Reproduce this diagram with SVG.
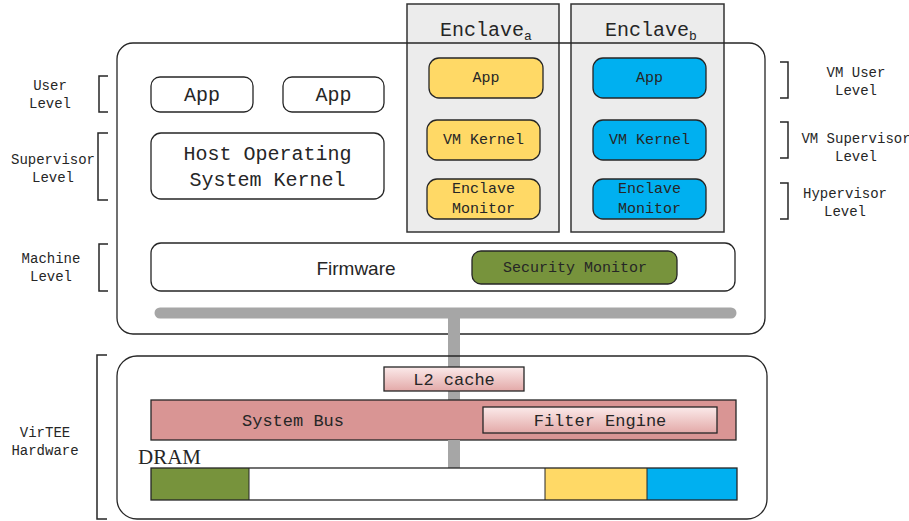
<svg xmlns="http://www.w3.org/2000/svg" width="909" height="521" viewBox="0 0 909 521">
<defs>
<linearGradient id="pink" x1="0" y1="0" x2="0" y2="1">
<stop offset="0" stop-color="#fbeaea"/>
<stop offset="1" stop-color="#e3a9a8"/>
</linearGradient>
<style>
text{font-family:"Liberation Mono","DejaVu Sans Mono",monospace;fill:#262626;text-anchor:middle;dominant-baseline:central}
.lbl{font-size:14px}
.box{fill:#fff;stroke:#262626;stroke-width:1.3}
.encl{fill:#ececec;stroke:#333;stroke-width:1.5}
.yel{fill:#ffd966;stroke:#262626;stroke-width:1.3}
.blu{fill:#00b0f0;stroke:#262626;stroke-width:1.3}
.brk{fill:none;stroke:#262626;stroke-width:1.5}
.in{font-size:15px}
.big{font-size:20px}
.hw{font-size:17px}
.edge{stroke:#a6a6a6;fill:none}
</style>
</defs>

<!-- main software box background -->
<rect x="117" y="43" width="648" height="291" rx="16" fill="#fff"/>

<g id="enclave_a">
<rect class="encl" x="407" y="4" width="152" height="228"/>
<text x="486" y="30" style="font-size:20px">Enclave<tspan font-size="13" dy="6">a</tspan></text>
</g>
<g id="enclave_b">
<rect class="encl" x="571" y="4" width="153" height="228"/>
<text x="651" y="30" style="font-size:20px">Enclave<tspan font-size="13" dy="6">b</tspan></text>
</g>

<g id="main_box">
<rect x="117" y="43" width="648" height="291" rx="16" fill="none" stroke="#262626" stroke-width="1.3"/>
</g>

<g id="connectors">
<line class="edge" x1="160" y1="313" x2="731" y2="313" stroke-width="11" stroke-linecap="round"/>
<line class="edge" x1="454" y1="318" x2="454" y2="468" stroke-width="12"/>
</g>

<g id="app_a"><rect class="yel" x="429" y="58" width="114" height="40" rx="10"/><text class="in" x="486" y="78">App</text></g>
<g id="vmk_a"><rect class="yel" x="427" y="120" width="113" height="40" rx="10"/><text class="in" x="483.5" y="140">VM Kernel</text></g>
<g id="em_a"><rect class="yel" x="427" y="179" width="113" height="40" rx="10"/><text class="in" x="483.5" y="189">Enclave</text><text class="in" x="483.5" y="209">Monitor</text></g>

<g id="app_b"><rect class="blu" x="593" y="58" width="113" height="40" rx="10"/><text class="in" x="649.5" y="78">App</text></g>
<g id="vmk_b"><rect class="blu" x="593" y="120" width="113" height="40" rx="10"/><text class="in" x="649.5" y="140">VM Kernel</text></g>
<g id="em_b"><rect class="blu" x="593" y="179" width="113" height="40" rx="10"/><text class="in" x="649.5" y="189">Enclave</text><text class="in" x="649.5" y="209">Monitor</text></g>

<g id="app1"><rect class="box" x="151" y="77" width="102" height="35" rx="9"/><text class="big" x="202" y="95">App</text></g>
<g id="app2"><rect class="box" x="283" y="77" width="101" height="35" rx="9"/><text class="big" x="333.5" y="95">App</text></g>
<g id="host_kernel"><rect class="box" x="151" y="133" width="233" height="66" rx="10"/><text class="big" x="267.5" y="154">Host Operating</text><text class="big" x="267.5" y="180">System Kernel</text></g>

<g id="firmware">
<rect class="box" x="151" y="243" width="584" height="48" rx="10"/>
<text x="356" y="268" style="font-family:'Liberation Sans','Open Sans',sans-serif;font-size:19px">Firmware</text>
</g>
<g id="security_monitor">
<rect x="472" y="251" width="205" height="33" rx="9" fill="#77933c" stroke="#262626" stroke-width="1.3"/>
<text x="575" y="268" style="font-size:15px">Security Monitor</text>
</g>

<g id="hardware_box">
<rect x="117" y="356" width="650" height="163" rx="20" fill="none" stroke="#262626" stroke-width="1.3"/>
</g>

<g id="l2cache"><rect x="384" y="367" width="140" height="24" fill="url(#pink)" stroke="#262626" stroke-width="1.3"/><text class="hw" x="454" y="380">L2 cache</text></g>
<g id="system_bus"><rect x="151" y="400" width="585" height="40" fill="#d99594" stroke="#262626" stroke-width="1.3"/><text class="hw" x="293" y="421">System Bus</text></g>
<g id="filter_engine"><rect x="483" y="407" width="234" height="26" fill="url(#pink)" stroke="#262626" stroke-width="1.3"/><text class="hw" x="600" y="421">Filter Engine</text></g>

<g id="connector_over">
<line class="edge" x1="454" y1="440" x2="454" y2="468" stroke-width="12"/>
</g>

<g id="dram">
<text x="163" y="457" style="font-family:'Liberation Serif',serif;font-size:21px;text-anchor:start" dx="-25">DRAM</text>
<rect x="151" y="468" width="98" height="32" fill="#77933c"/>
<rect x="249" y="468" width="296" height="32" fill="#fff"/>
<rect x="545" y="468" width="102" height="32" fill="#ffd966"/>
<rect x="647" y="468" width="90" height="32" fill="#00b0f0"/>
<rect x="151" y="468" width="586" height="32" fill="none" stroke="#262626" stroke-width="1.3"/>
<line x1="249" y1="468" x2="249" y2="500" stroke="#262626" stroke-width="1"/>
<line x1="545" y1="468" x2="545" y2="500" stroke="#262626" stroke-width="1"/>
<line x1="647" y1="468" x2="647" y2="500" stroke="#262626" stroke-width="1"/>
</g>

<g id="left_labels">
<path class="brk" d="M108,76 H99 V112 H108"/>
<text class="lbl" x="50" y="86">User</text><text class="lbl" x="50" y="104">Level</text>
<path class="brk" d="M108,133 H98 V200 H108"/>
<text class="lbl" x="53" y="160">Supervisor</text><text class="lbl" x="53" y="178">Level</text>
<path class="brk" d="M108,244 H99 V291 H108"/>
<text class="lbl" x="51" y="259">Machine</text><text class="lbl" x="51" y="277">Level</text>
<path class="brk" d="M107,355 H97 V519 H107"/>
<text class="lbl" x="45" y="433">VirTEE</text><text class="lbl" x="45" y="451">Hardware</text>
</g>

<g id="right_labels">
<path class="brk" d="M780,62 H788 V98 H780"/>
<text class="lbl" x="856" y="73">VM User</text><text class="lbl" x="856" y="91">Level</text>
<path class="brk" d="M780,122 H788 V158 H780"/>
<text class="lbl" x="856" y="139">VM Supervisor</text><text class="lbl" x="856" y="157">Level</text>
<path class="brk" d="M780,183 H788 V219 H780"/>
<text class="lbl" x="845" y="194">Hypervisor</text><text class="lbl" x="845" y="212">Level</text>
</g>
</svg>
